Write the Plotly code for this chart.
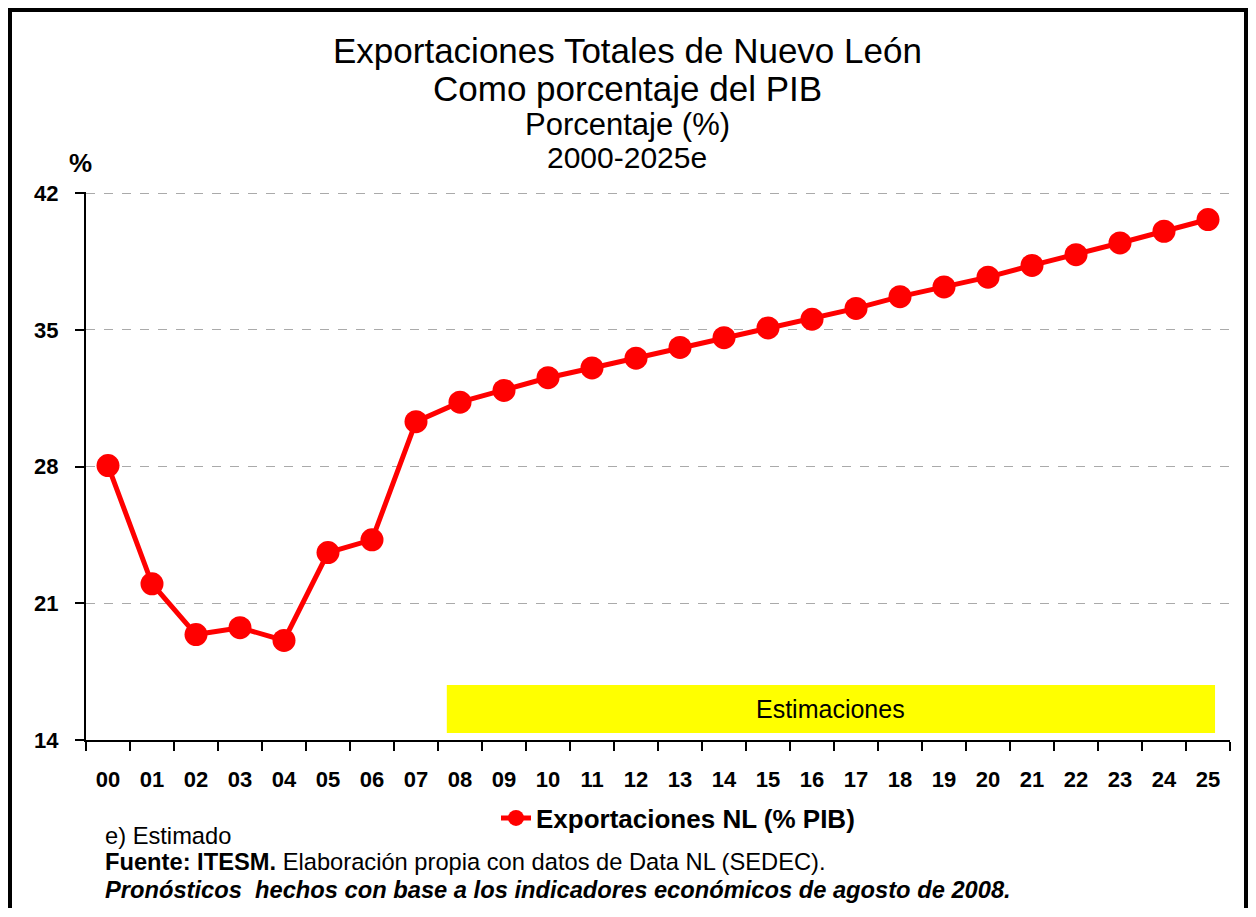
import plotly.graph_objects as go

years = ["00","01","02","03","04","05","06","07","08","09","10","11","12",
         "13","14","15","16","17","18","19","20","21","22","23","24","25"]
values = [28.05, 22.0, 19.4, 19.75, 19.1, 23.6, 24.25, 30.3, 31.3, 31.9, 32.55,
          33.05, 33.55, 34.1, 34.6, 35.1, 35.55, 36.1, 36.7, 37.2, 37.7, 38.3,
          38.85, 39.45, 40.05, 40.65]
y_ticks = [14, 21, 28, 35, 42]
series_name = "Exportaciones NL (% PIB)"
title_lines = ["Exportaciones Totales de Nuevo León", "Como porcentaje del PIB",
               "Porcentaje (%)", "2000-2025e"]

FONT = "Liberation Sans, Arial, sans-serif"

OFF = 8  # browser body margin
W, H = 1256 - OFF, 917 - 2 * OFF - 1
# plot area in page coords: x 86..1230, y 192..740
L, R = 86 - OFF, W - (1230 - OFF)
T, B = 192 - OFF, H - (740 - OFF)
PW, PH = W - L - R, H - T - B

def px(x):
    # page x -> paper x
    return (x - OFF - L) / PW

def py(y):
    # page y -> paper y
    return (H - B - (y - OFF)) / PH

fig = go.Figure()
fig.add_trace(go.Scatter(
    x=years, y=values, mode="lines+markers", name=series_name,
    line=dict(color="#FF0000", width=5),
    marker=dict(color="#FF0000", size=23),
))

fig.update_layout(
    width=W, height=H,
    margin=dict(l=L, r=R, t=T, b=B),
    paper_bgcolor="white", plot_bgcolor="white",
    showlegend=True,
    legend=dict(
        orientation="h", x=px(678), y=py(818), xanchor="center", yanchor="middle",
        font=dict(family=FONT, size=26, color="black", weight="bold"),
        bgcolor="rgba(0,0,0,0)",
    ),
    xaxis=dict(
        type="category", categoryorder="array", categoryarray=years,
        range=[-0.5, 25.5], showline=True, linecolor="black", linewidth=2,
        ticks="outside", tickson="boundaries", ticklen=9, tickwidth=2, tickcolor="black",
        ticklabelstandoff=19,
        tickfont=dict(family=FONT, size=22, color="black", weight="bold"),
        showgrid=False, zeroline=False, fixedrange=True,
    ),
    yaxis=dict(
        range=[14, 42.06], tickvals=y_ticks, ticktext=[str(v) for v in y_ticks],
        showline=True, linecolor="black", linewidth=2,
        ticks="outside", ticklen=9, tickwidth=2, tickcolor="black",
        ticklabelstandoff=12,
        tickfont=dict(family=FONT, size=22, color="black", weight="bold"),
        showgrid=True, gridcolor="#AAAAAA", griddash="dash", gridwidth=1,
        zeroline=False, fixedrange=True,
    ),
)

# Estimaciones box
fig.add_shape(type="rect", xref="x", yref="y", x0=7.7, x1=25.16, y0=14.36, y1=16.81,
              fillcolor="#FFFF00", line=dict(width=0), layer="below")
fig.add_annotation(xref="x", yref="y", x=(7.7 + 25.16) / 2, y=(14.36 + 16.81) / 2,
                   text="Estimaciones", showarrow=False,
                   font=dict(family=FONT, size=25, color="black"))

# Outer border
fig.add_shape(type="rect", xref="paper", yref="paper",
              x0=px(OFF + 2), x1=px(1246), y0=py(OFF + 2), y1=py(940),
              line=dict(color="black", width=4), fillcolor="rgba(0,0,0,0)")

# Title lines
title_sizes = [35, 35, 31, 30]
title_ys = [50, 88, 125, 157]
for txt, sz, yy in zip(title_lines, title_sizes, title_ys):
    fig.add_annotation(xref="paper", yref="paper", x=px(627), y=py(yy),
                       xanchor="center", yanchor="middle", text=txt, showarrow=False,
                       font=dict(family=FONT, size=sz, color="black"))

fig.add_annotation(xref="paper", yref="paper", x=px(80), y=py(163),
                   xanchor="center", yanchor="middle", text="%", showarrow=False,
                   font=dict(family=FONT, size=26, color="black", weight="bold"))

foot = [
    ("e) Estimado", 836),
    ("<b>Fuente: ITESM.</b> Elaboración propia con datos de Data NL (SEDEC).", 862),
    ("<b><i>Pronósticos  hechos con base a los indicadores económicos de agosto de 2008.</i></b>", 890),
]
for txt, yy in foot:
    fig.add_annotation(xref="paper", yref="paper", x=px(103), y=py(yy),
                       xanchor="left", yanchor="middle", text=txt, showarrow=False,
                       font=dict(family=FONT, size=23.7, color="black"))

fig.write_html("out.html")
